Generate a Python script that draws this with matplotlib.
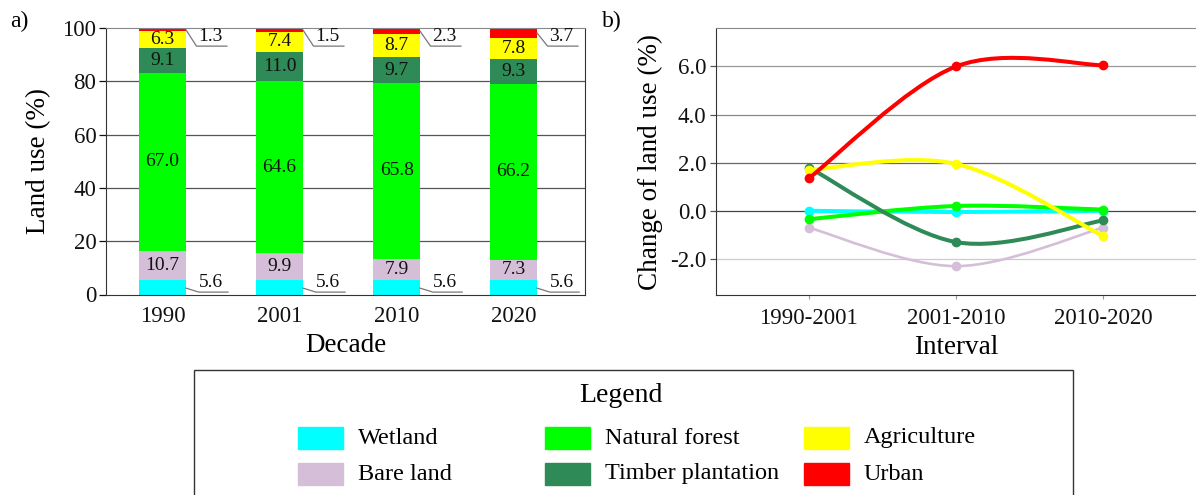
import matplotlib
matplotlib.use("Agg")
import matplotlib.pyplot as plt
from matplotlib.path import Path
from matplotlib.patches import PathPatch, Rectangle
import numpy as np

plt.rcParams['font.family'] = ['Liberation Serif', 'DejaVu Serif']
plt.rcParams['axes.unicode_minus'] = False

# Données (a) : part de chaque occupation du sol (%)
decades = ['1990', '2001', '2010', '2020']
wetland = [5.6, 5.6, 5.6, 5.6]
bare_land = [10.7, 9.9, 7.9, 7.3]
natural_forest = [67.0, 64.6, 65.8, 66.2]
timber = [9.1, 11.0, 9.7, 9.3]
agriculture = [6.3, 7.4, 8.7, 7.8]
urban = [1.3, 1.5, 2.3, 3.7]

# Données (b) : changement entre intervalles (%)
intervals = ['1990-2001', '2001-2010', '2010-2020']
chg_wetland = [0.0, -0.05, 0.0]
chg_bare_land = [-0.7, -2.3, -0.7]
chg_natural_forest = [-0.35, 0.2, 0.05]
chg_timber = [1.8, -1.3, -0.4]
chg_agriculture = [1.7, 1.95, -1.05]
chg_urban = [1.35, 6.0, 6.05]

names = ['Wetland', 'Bare land', 'Natural forest', 'Timber plantation', 'Agriculture', 'Urban']
colors = {
    'Wetland': '#00FFFF',
    'Bare land': '#D5BFD8',
    'Natural forest': '#00FF00',
    'Timber plantation': '#2E8B57',
    'Agriculture': '#FFFF00',
    'Urban': '#FF0000',
}

W, H = 1196, 495
fig = plt.figure(figsize=(W / 100, H / 100), dpi=100)

TICK_FS = 16.5
LABEL_FS = 19.5
VAL_FS = 14


def smooth_path(xs, ys):
    # courbe lissée type Excel (Bezier, Catmull-Rom)
    pts = np.column_stack([xs, ys]).astype(float)
    n = len(pts)
    verts = [pts[0]]
    codes = [Path.MOVETO]
    for i in range(n - 1):
        p0 = pts[i - 1] if i > 0 else pts[i]
        p1, p2 = pts[i], pts[i + 1]
        p3 = pts[i + 2] if i + 2 < n else pts[i + 1]
        verts += [p1 + (p2 - p0) / 6, p2 - (p3 - p1) / 6, p2]
        codes += [Path.CURVE4] * 3
    return Path(verts, codes)


# ---------- (a) barres empilées ----------
ax1 = fig.add_axes([106 / W, 1 - 294.5 / H, (585 - 106) / W, (294.5 - 28) / H])
x = np.arange(len(decades))
stack = [wetland, bare_land, natural_forest, timber, agriculture, urban]
bottom = np.zeros(len(decades))
for name, vals in zip(names, stack):
    vals = np.array(vals)
    ax1.bar(x, vals, width=0.4, bottom=bottom, color=colors[name], zorder=2)
    if name not in ('Wetland', 'Urban'):
        for xi, b, v in zip(x, bottom, vals):
            ax1.text(xi, b + v / 2, f'{v:.1f}', ha='center', va='center',
                     fontsize=VAL_FS, color='#111', zorder=3)
    bottom = bottom + vals

# étiquettes extérieures avec traits de rappel
for xi, v in zip(x, wetland):
    ax1.plot([xi + 0.2, xi + 0.31, xi + 0.56], [v / 2 - 0.4, 0.9, 0.9],
             color='#777', lw=0.9, zorder=3, clip_on=False)
    ax1.text(xi + 0.41, 1.4, f'{v:.1f}', ha='center', va='bottom',
             fontsize=VAL_FS, color='#111')
for xi, v in zip(x, urban):
    ax1.plot([xi + 0.2, xi + 0.29, xi + 0.55], [100 - v / 2, 93.2, 93.2],
             color='#777', lw=0.9, zorder=3, clip_on=False)
    ax1.text(xi + 0.405, 93.6, f'{v:.1f}', ha='center', va='bottom',
             fontsize=VAL_FS, color='#111')

ax1.set_xlim(-0.483, 3.61)
ax1.set_ylim(0, 100)
ax1.set_yticks(range(0, 101, 20))
ax1.set_xticks(x)
ax1.set_xticklabels(decades)
ax1.tick_params(axis='x', length=0, pad=8, labelsize=TICK_FS, colors='#111')
ax1.tick_params(axis='y', length=5, width=0.9, pad=2, labelsize=TICK_FS, colors='#111')
for yv in range(20, 100, 20):
    ax1.axhline(yv, color='#555', lw=0.9, zorder=1)
for s in ('left', 'bottom', 'right'):
    ax1.spines[s].set_color('#333')
ax1.spines['top'].set_color('#888')
ax1.set_ylabel('Land use (%)', fontsize=LABEL_FS)
ax1.set_xlabel('Decade', fontsize=LABEL_FS)
ax1.yaxis.set_label_coords(-0.115, 0.5)
ax1.xaxis.set_label_coords(0.5, -0.143)
fig.text(10 / W, 1 - 21 / H, 'a)', fontsize=17, va='center', ha='left')

# ---------- (b) changement ----------
ax2 = fig.add_axes([716 / W, 1 - 295 / H, (W - 716) / W, (295 - 28) / H])
xi2 = np.arange(len(intervals))
series = [chg_bare_land, chg_wetland, chg_natural_forest, chg_timber, chg_agriculture, chg_urban]
order = ['Bare land', 'Wetland', 'Natural forest', 'Timber plantation', 'Agriculture', 'Urban']
for k, (name, vals) in enumerate(zip(order, series)):
    lw = 1.9 if name == 'Bare land' else 2.9
    ax2.add_patch(PathPatch(smooth_path(xi2, vals), fill=False, edgecolor=colors[name],
                            lw=lw, zorder=3 + k, capstyle='round'))
    ax2.plot(xi2, vals, 'o', color=colors[name], ms=6, zorder=3 + k)

grid_cols = {6: '#999', 4: '#888', 2: '#666', 0: '#444', -2: '#ccc'}
for yv, c in grid_cols.items():
    ax2.axhline(yv, color=c, lw=0.9, zorder=1)
ax2.set_xlim(-0.63, 2.63)
ax2.set_ylim(-3.5, 7.6)
ax2.set_yticks([-2, 0, 2, 4, 6])
ax2.set_yticklabels([f'{v:.1f}' for v in [-2, 0, 2, 4, 6]])
ax2.set_xticks(xi2)
ax2.set_xticklabels(intervals)
ax2.tick_params(axis='x', length=3, color='#999', pad=6, labelsize=TICK_FS, labelcolor='#111')
ax2.tick_params(axis='y', length=4, width=0.9, color='#555', pad=3, labelsize=TICK_FS, labelcolor='#111')
ax2.spines['left'].set_color('#333')
ax2.spines['bottom'].set_color('#333')
ax2.spines['top'].set_color('#888')
ax2.spines['right'].set_visible(False)
ax2.set_ylabel('Change of land use (%)', fontsize=LABEL_FS)
ax2.set_xlabel('Interval', fontsize=LABEL_FS)
ax2.yaxis.set_label_coords(-0.11, 0.5)
ax2.xaxis.set_label_coords(0.5, -0.15)
fig.text(602 / W, 1 - 21 / H, 'b)', fontsize=17, va='center', ha='left')

# ---------- légende ----------
fig.patches.append(Rectangle((194 / W, -0.02), (1073 - 194) / W, (1 - 370 / H) + 0.02,
                             transform=fig.transFigure, fill=False, edgecolor='#333', lw=1.0))
fig.text(621 / W, 1 - 395 / H, 'Legend', fontsize=20, ha='center', va='center')
col_x = [298, 545, 804]
row_y = [438, 474]
layout = [['Wetland', 'Natural forest', 'Agriculture'],
          ['Bare land', 'Timber plantation', 'Urban']]
for r, row in enumerate(layout):
    for c, name in enumerate(row):
        fig.patches.append(Rectangle((col_x[c] / W, 1 - (row_y[r] + 11) / H), 45 / W, 22 / H,
                                     transform=fig.transFigure, color=colors[name]))
        fig.text((col_x[c] + 60) / W, 1 - row_y[r] / H, name, fontsize=17.5,
                 ha='left', va='center')

fig.savefig('out.png', dpi=100)
